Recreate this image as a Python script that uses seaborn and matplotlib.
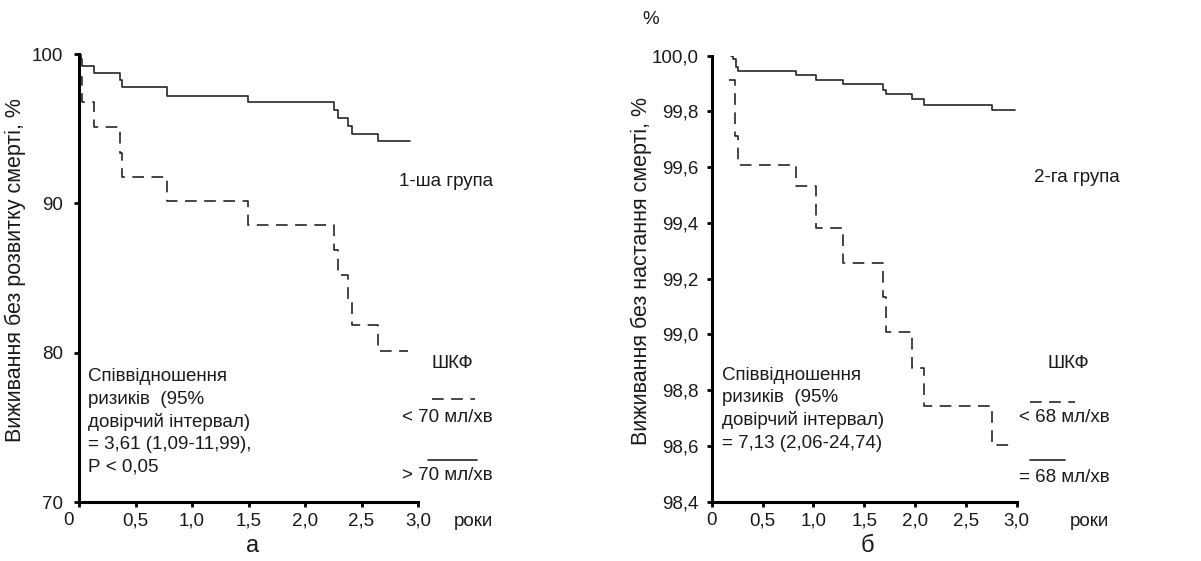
import pandas as pd
import matplotlib
matplotlib.use('Agg')
import matplotlib.pyplot as plt
from matplotlib.lines import Line2D
from matplotlib.transforms import ScaledTranslation
import seaborn as sns

# panel a: 1st group
a_time_high = [0, 0.018, 0.03, 0.135, 0.363, 0.383, 0.776, 1.498, 2.26, 2.29, 2.378, 2.413, 2.649, 2.93]
a_surv_high = [100, 99.64, 99.2, 98.7, 98.26, 97.77, 97.2, 96.76, 96.25, 95.73, 95.18, 94.64, 94.2, 94.2]
a_time_low = [0.0, 0.03, 0.135, 0.363, 0.383, 0.776, 1.498, 2.26, 2.29, 2.378, 2.413, 2.649, 2.91]
a_surv_low = [98.48, 96.8, 95.13, 93.4, 91.78, 90.15, 88.55, 86.87, 85.2, 83.5, 81.85, 80.13, 80.13]

# panel b: 2nd group
b_time_high = [0.19, 0.213, 0.236, 0.255, 0.829, 1.026, 1.294, 1.688, 1.711, 1.973, 2.09, 2.753, 2.982]
b_surv_high = [99.998, 99.987, 99.96, 99.944, 99.93, 99.913, 99.897, 99.877, 99.861, 99.843, 99.824, 99.805, 99.805]
b_time_low = [0.17, 0.229, 0.255, 0.829, 1.026, 1.294, 1.688, 1.711, 1.973, 2.09, 2.753, 2.982]
b_surv_low = [99.913, 99.712, 99.608, 99.532, 99.383, 99.258, 99.135, 99.007, 98.878, 98.743, 98.605, 98.605]

x_ticks = [0, 0.5, 1.0, 1.5, 2.0, 2.5, 3.0]
x_labels = ['0', '0,5', '1,0', '1,5', '2,0', '2,5', '3,0']
a_yticks = [70, 80, 90, 100]
a_ylabels = ['70', '80', '90', '100']
b_yticks = [98.4, 98.6, 98.8, 99.0, 99.2, 99.4, 99.6, 99.8, 100.0]
b_ylabels = ['98,4', '98,6', '98,8', '99,0', '99,2', '99,4', '99,6', '99,8', '100,0']

sns.set_style('ticks')
plt.rcParams['font.family'] = ['Liberation Sans', 'DejaVu Sans']
FS = 13.5
TXT = '#1a1a1a'
LINE = '#262626'
DASH = (7, 4.5)

W, H = 1201, 561
fig = plt.figure(figsize=(W / 100, H / 100), dpi=100)


def px(x, y):
    return x / W, 1 - y / H


def make_df(th, sh, tl, sl):
    return pd.concat([
        pd.DataFrame({'t': th, 's': sh, 'g': 'high'}),
        pd.DataFrame({'t': tl, 's': sl, 'g': 'low'}),
    ], ignore_index=True)


def panel(rect, df, ylim, yticks, ylabels, ypad):
    ax = fig.add_axes(rect)
    sns.lineplot(data=df, x='t', y='s', style='g', dashes={'high': '', 'low': DASH},
                 color=LINE, linewidth=1.2, drawstyle='steps-post', estimator=None,
                 sort=False, legend=False, ax=ax)
    ax.set_xlim(0, 3)
    ax.set_ylim(*ylim)
    ax.set_xticks(x_ticks)
    ax.set_xticklabels(x_labels)
    ax.set_yticks(yticks)
    ax.set_yticklabels(ylabels)
    ax.set_xlabel('')
    ax.set_ylabel('')
    sns.despine(ax=ax)
    for sp in ('left', 'bottom'):
        ax.spines[sp].set_linewidth(2.2)
        ax.spines[sp].set_color('black')
    ax.tick_params(length=3.5, width=2.0, labelsize=FS, colors='black', labelcolor=TXT)
    ax.tick_params(axis='x', pad=4)
    ax.tick_params(axis='y', pad=ypad)
    return ax


# axes rectangles from pixel positions
axa = panel([79 / W, 1 - 502 / H, (418 - 79) / W, (502 - 54) / H],
            make_df(a_time_high, a_surv_high, a_time_low, a_surv_low),
            (70, 100), a_yticks, a_ylabels, 8)
axb = panel([711.7 / W, 1 - 501.7 / H, (1016.7 - 711.7) / W, (501.7 - 55.7) / H],
            make_df(b_time_high, b_surv_high, b_time_low, b_surv_low),
            (98.4, 100.0), b_yticks, b_ylabels, 6)

# the "0" under panel a sits a little left of the axis
zero = axa.get_xticklabels()[0]
zero.set_transform(zero.get_transform() + ScaledTranslation(-0.1, 0, fig.dpi_scale_trans))


def ftxt(x, y, s, **kw):
    kw.setdefault('ha', 'center')
    kw.setdefault('va', 'center')
    kw.setdefault('fontsize', FS)
    fig.text(*px(x, y), s, color=TXT, **kw)


def fline(x0, x1, y, dashed):
    (fx0, fy), (fx1, _) = px(x0, y), px(x1, y)
    ls = (0, DASH) if dashed else '-'
    fig.add_artist(Line2D([fx0, fx1], [fy, fy], transform=fig.transFigure,
                          color=LINE, linewidth=1.2, linestyle=ls))


# y labels
ftxt(15, 270, 'Виживання без розвитку смерті, %', rotation=90, fontsize=15.5)
ftxt(641, 271, 'Виживання без настання смерті, %', rotation=90, fontsize=15.5)
ftxt(651, 20, '%')

# x units and panel letters
ftxt(473, 522, 'роки')
ftxt(1089, 522, 'роки')
ftxt(253, 546, 'а', fontsize=17)
ftxt(867, 546, 'б', fontsize=17)

# group names
ftxt(446, 182, '1-ша група')
ftxt(1077, 178, '2-га група')

# hazard ratio annotations
ftxt(88, 422, 'Співвідношення\nризиків  (95%\nдовірчий інтервал)\n= 3,61 (1,09-11,99),\nР < 0,05',
     ha='left', linespacing=1.4)
ftxt(722, 409, 'Співвідношення\nризиків  (95%\nдовірчий інтервал)\n= 7,13 (2,06-24,74)',
     ha='left', linespacing=1.4)

# legends
ftxt(452, 363, 'ШКФ')
fline(432, 475, 399, True)
ftxt(447, 417, '< 70 мл/хв')
fline(428, 477, 460, False)
ftxt(447, 476, '> 70 мл/хв')

ftxt(1068, 363, 'ШКФ')
fline(1030, 1075, 402, True)
ftxt(1064, 418, '< 68 мл/хв')
fline(1030, 1065, 460, False)
ftxt(1064, 477, '= 68 мл/хв')

fig.savefig('out.png', dpi=100, facecolor='white')
